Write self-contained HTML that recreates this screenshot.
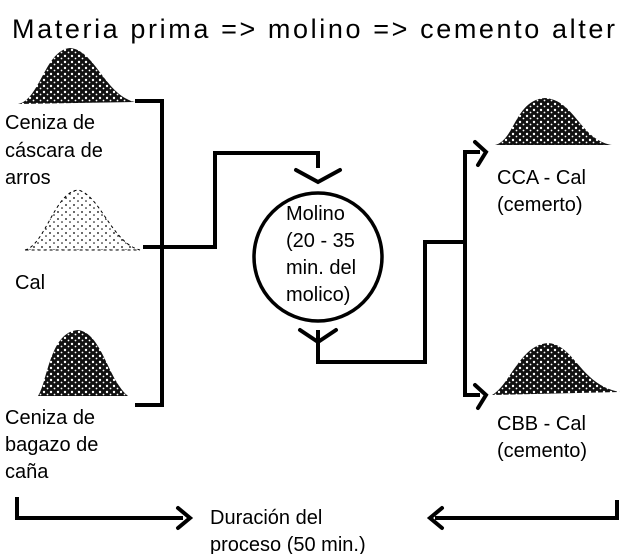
<!DOCTYPE html>
<html><head><meta charset="utf-8"><style>
html,body{margin:0;padding:0;background:#fff;}
svg{display:block;}
text{font-family:"Liberation Sans",sans-serif;fill:#000;}
</style></head><body>
<svg width="629" height="554" viewBox="0 0 629 554" xmlns="http://www.w3.org/2000/svg">
<defs>
<pattern id="sp" width="7" height="6" patternUnits="userSpaceOnUse">
<rect width="7" height="6" fill="#111"/>
<circle cx="2" cy="2" r="1.2" fill="#fff"/><circle cx="5.5" cy="4.5" r="0.9" fill="#fff"/>
</pattern>
<pattern id="lt" width="8" height="7" patternUnits="userSpaceOnUse">
<circle cx="2" cy="2" r="0.9" fill="#000"/><circle cx="6" cy="5" r="0.8" fill="#000"/>
</pattern>
</defs>
<text x="12" y="38" font-size="27" textLength="603" lengthAdjust="spacing">Materia prima =&gt; molino =&gt; cemento alter</text>
<path d="M18,104 C40,100 45,50 70,48 C95,50 105,95 135,102 Z" fill="url(#sp)"/>
<path d="M25,250 C45,245 55,192 78,190 C100,195 112,243 140,250 Z" fill="url(#lt)" stroke="#000" stroke-width="1" stroke-dasharray="3,3"/>
<path d="M38,396 C48,380 50,332 78,330 C102,333 108,380 128,396 Z" fill="url(#sp)"/>
<path d="M495,145 C515,140 515,100 545,98 C575,100 580,140 612,145 Z" fill="url(#sp)"/>
<path d="M492,395 C510,385 520,345 548,343 C575,345 580,385 620,392 Z" fill="url(#sp)"/>
<g fill="none" stroke="#000" stroke-width="4">
<polyline points="135,101 162,101 162,405 135,405"/>
<polyline points="143,247 215,247 215,153 318,153 318,168"/>
<circle cx="318" cy="257" r="64" stroke-width="3.5"/>
<polyline points="318,330 318,362 425,362 425,242 465,242"/>
<polyline points="480,152 465,152 465,395 480,395"/>
<polyline points="17,497 17,518 183,518"/>
<polyline points="617,500 617,518 435,518"/>
</g>
<g fill="none" stroke="#000" stroke-width="4" stroke-linecap="round">
<polyline points="296,170 318,182 340,170"/>
<polyline points="300,330 318,342 336,330"/>
<polyline points="475,142 486,152 478,165"/>
<polyline points="475,385 486,395 478,408"/>
<polyline points="178,508 190,518 178,528"/>
<polyline points="442,508 430,518 442,528"/>
</g>
<g font-size="20">
<text x="5" y="129">Ceniza de</text>
<text x="5" y="157">cáscara de</text>
<text x="5" y="184">arros</text>
<text x="15" y="289">Cal</text>
<text x="5" y="424">Ceniza de</text>
<text x="5" y="451">bagazo de</text>
<text x="5" y="478">caña</text>
<text x="286" y="220">Molino</text>
<text x="286" y="247">(20 - 35</text>
<text x="286" y="274">min. del</text>
<text x="286" y="301">molico)</text>
<text x="497" y="184">CCA - Cal</text>
<text x="497" y="211">(cemerto)</text>
<text x="497" y="430">CBB - Cal</text>
<text x="497" y="457">(cemento)</text>
<text x="210" y="524">Duración del</text>
<text x="210" y="551">proceso (50 min.)</text>
</g>
</svg>
</body></html>
